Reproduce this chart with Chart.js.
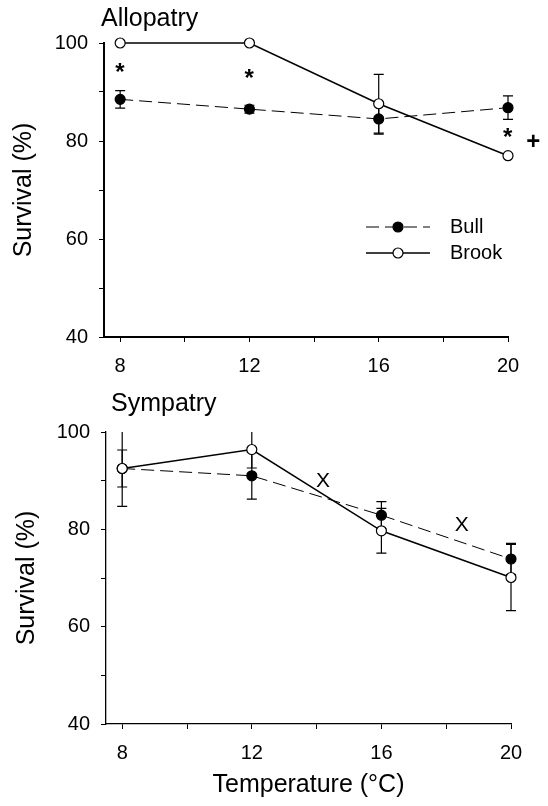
<!DOCTYPE html>
<html>
<head>
<meta charset="utf-8">
<script src="https://cdn.jsdelivr.net/npm/chart.js@4.4.0/dist/chart.umd.min.js"></script>
<style>
  body { margin: 0; background: #fff; }
  canvas { display: block; }
</style>
</head>
<body>
<canvas id="allo" width="548" height="380"></canvas>
<canvas id="symp" width="548" height="426"></canvas>
<script>
// temperatures (x) and tick positions
const temps = [8, 12, 16, 20];
const xTicks = [8, 10, 12, 14, 16, 18, 20];
const xLabeled = [8, 12, 16, 20];

// Allopatry panel
const alloBull = [88.5, 86.5, 84.5, 86.8];
const alloBullErr = [1.8, 0.8, 3.1, 2.4];
const alloBrook = [100, 100, 87.6, 77.0];
const alloBrookErr = [0, 0, 6.0, 0];
const alloMarks = [['*', 8, 95.1], ['*', 12, 93.7], ['*', 20, 81.8], ['+', 20.8, 80.2]];

// Sympatry panel
const sympBull = [92.5, 91.0, 82.9, 73.9];
const sympBullErr = [3.8, 4.8, 2.8, 3.2];
const sympBrook = [92.5, 96.4, 79.7, 70.1];
const sympBrookErr = [7.8, 3.8, 4.6, 6.8];
const sympMarks = [['X', 14.2, 90.1], ['X', 18.48, 81.0]];

const FONT = "'Liberation Sans', Arial, Helvetica, sans-serif";

function pts(vals) {
  return temps.map((t, i) => ({ x: t, y: vals[i] }));
}

function bullSet(vals, errs) {
  return {
    label: 'Bull', data: pts(vals), errors: errs, order: 1,
    borderColor: '#000', borderWidth: 1, borderDash: [13, 6],
    pointRadius: 5, pointBackgroundColor: '#000', pointBorderColor: '#000', pointBorderWidth: 1.2,
    tension: 0, clip: false
  };
}

function brookSet(vals, errs) {
  return {
    label: 'Brook', data: pts(vals), errors: errs, order: 0,
    borderColor: '#000', borderWidth: 1.5,
    pointRadius: 5, pointBackgroundColor: '#fff', pointBorderColor: '#000', pointBorderWidth: 1.2,
    tension: 0, clip: false
  };
}

const errorBars = {
  id: 'errorBars',
  beforeDatasetsDraw(chart) {
    const { ctx, chartArea, scales: { x, y } } = chart;
    ctx.save();
    ctx.beginPath();
    ctx.rect(0, chartArea.top, chart.width, chartArea.bottom - chartArea.top);
    ctx.clip();
    ctx.strokeStyle = '#000';
    ctx.lineWidth = 1.2;
    chart.data.datasets.forEach(ds => {
      ds.data.forEach((p, i) => {
        const e = ds.errors[i];
        if (!e) return;
        const px = x.getPixelForValue(p.x);
        const hi = y.getPixelForValue(p.y + e);
        const lo = y.getPixelForValue(p.y - e);
        ctx.beginPath();
        ctx.moveTo(px, hi); ctx.lineTo(px, lo);
        ctx.moveTo(px - 5, hi); ctx.lineTo(px + 5, hi);
        ctx.moveTo(px - 5, lo); ctx.lineTo(px + 5, lo);
        ctx.stroke();
      });
    });
    ctx.restore();
  }
};

const notes = {
  id: 'notes',
  afterDatasetsDraw(chart, args, opts) {
    const { ctx, chartArea, scales: { x, y } } = chart;
    ctx.save();
    ctx.fillStyle = '#000';
    ctx.font = '25px ' + FONT;
    ctx.textBaseline = 'alphabetic';
    ctx.fillText(opts.title, opts.titleX, chartArea.top - opts.titleGap);
    (opts.marks || []).forEach(([t, mx, my]) => {
      ctx.font = opts.markFont;
      const m = ctx.measureText(t);
      const cx = x.getPixelForValue(mx);
      const cy = y.getPixelForValue(my);
      const w = m.actualBoundingBoxRight + m.actualBoundingBoxLeft;
      const bx = cx - w / 2 + m.actualBoundingBoxLeft;
      const by = cy + (m.actualBoundingBoxAscent - m.actualBoundingBoxDescent) / 2;
      ctx.fillText(t, bx, by);
    });
    if (opts.legend) {
      const L = opts.legend;
      chart.data.datasets.forEach((ds, i) => {
        const ly = L.y + i * L.gap;
        ctx.strokeStyle = '#000';
        ctx.lineWidth = ds.borderWidth;
        ctx.setLineDash(ds.borderDash || []);
        ctx.beginPath();
        ctx.moveTo(L.x, ly); ctx.lineTo(L.x + 64, ly);
        ctx.stroke();
        ctx.setLineDash([]);
        ctx.beginPath();
        ctx.arc(L.x + 32, ly, ds.pointRadius, 0, Math.PI * 2);
        ctx.fillStyle = ds.pointBackgroundColor;
        ctx.fill();
        ctx.lineWidth = ds.pointBorderWidth;
        ctx.stroke();
        ctx.fillStyle = '#000';
        ctx.font = '20px ' + FONT;
        ctx.textBaseline = 'middle';
        ctx.fillText(ds.label, L.x + 84, ly);
        ctx.textBaseline = 'alphabetic';
      });
    }
    ctx.restore();
  }
};

function makeChart(id, sets, p) {
  return new Chart(document.getElementById(id), {
    type: 'line',
    data: { datasets: sets },
    plugins: [errorBars, notes],
    options: {
      responsive: false,
      animation: false,
      devicePixelRatio: 1,
      events: [],
      layout: { padding: { top: p.top, right: p.right, bottom: 0, left: 0 } },
      plugins: {
        legend: { display: false },
        tooltip: { enabled: false },
        notes: p.notes
      },
      scales: {
        x: {
          type: 'linear', min: 7.5, max: 20,
          afterBuildTicks: s => { s.ticks = xTicks.map(v => ({ value: v })); },
          afterFit: s => { s.height = p.xHeight; },
          border: { display: true, color: '#000', width: p.axisWidth },
          grid: { display: true, drawOnChartArea: false, drawTicks: true, tickLength: 5, color: '#000', lineWidth: 1 },
          ticks: {
            autoSkip: false, maxRotation: 0, padding: 12, color: '#000',
            font: { family: FONT, size: 20 },
            callback: v => xLabeled.includes(v) ? String(v) : ''
          },
          title: {
            display: p.xTitle, text: 'Temperature (\u00B0C)', color: '#000',
            font: { family: FONT, size: 25 }, padding: { top: 0, bottom: 6 }
          }
        },
        y: {
          min: 40, max: 100,
          afterFit: s => { s.width = p.yWidth; },
          border: { display: true, color: '#000', width: p.axisWidth },
          grid: { display: true, drawOnChartArea: false, drawTicks: true, tickLength: 5, color: '#000', lineWidth: 1 },
          ticks: {
            stepSize: 10, padding: 11, color: '#000',
            font: { family: FONT, size: 20 },
            callback: v => v % 20 === 0 ? String(v) : ''
          },
          title: {
            display: true, text: 'Survival (%)', color: '#000',
            font: { family: FONT, size: 25 }, padding: { top: p.yTitlePad, bottom: 0 }
          }
        }
      }
    }
  });
}

makeChart('allo', [bullSet(alloBull, alloBullErr), brookSet(alloBrook, alloBrookErr)], {
  top: 43, right: 40, xHeight: 43, yWidth: 104, axisWidth: 2, xTitle: false, yTitlePad: 9,
  notes: {
    title: 'Allopatry', titleX: 101, titleGap: 17,
    marks: alloMarks, markFont: 'bold 24px ' + FONT,
    legend: { x: 366, y: 227, gap: 26 }
  }
});

makeChart('symp', [bullSet(sympBull, sympBullErr), brookSet(sympBrook, sympBrookErr)], {
  top: 52, right: 37, xHeight: 82, yWidth: 106, axisWidth: 1.3, xTitle: true, yTitlePad: 12,
  notes: {
    title: 'Sympatry', titleX: 111, titleGap: 21,
    marks: sympMarks, markFont: '21px ' + FONT
  }
});
</script>
</body>
</html>
